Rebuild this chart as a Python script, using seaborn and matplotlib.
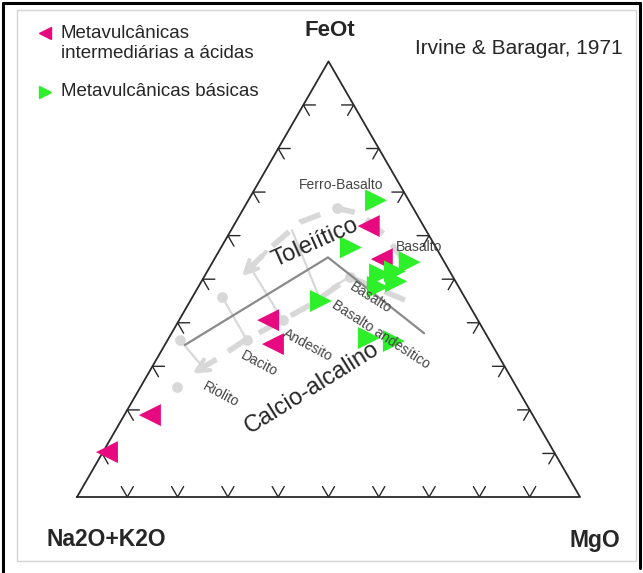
import numpy as np
import pandas as pd
import matplotlib
matplotlib.use("Agg")
import matplotlib.pyplot as plt
from matplotlib.lines import Line2D
from matplotlib.patches import Rectangle
import seaborn as sns

# ---- AFM compositions in percent: A = Na2O+K2O, F = FeOt, M = MgO ----
inter_acid_A = [10.9, 12.1, 41.7, 43.5, 76.1, 88.9]
inter_acid_F = [62.2, 54.6, 40.6, 35.1, 18.8, 10.3]
inter_acid_M = [26.9, 33.3, 17.7, 21.4, 5.1, 0.8]

basic_A = [6.5, 16.9, 6.9, 14.2, 10.9, 16.1, 11.8, 29.0, 23.7, 19.1]
basic_F = [68.1, 57.3, 53.9, 51.1, 51.8, 48.2, 49.5, 45.0, 36.5, 35.8]
basic_M = [25.4, 25.8, 39.2, 34.7, 37.3, 35.7, 38.7, 26.0, 39.8, 45.1]

# Irvine & Baragar (1971) tholeiitic / calc-alkaline divide
boundary_A = [61.1, 22.6, 12.2]
boundary_F = [34.9, 55.0, 37.6]
boundary_M = [4.0, 22.4, 50.2]

# reference differentiation trends (tholeiitic and calc-alkaline)
thol_A = [7.8, 8.7, 11.2, 15.2, 24.1, 33.7, 42.5]
thol_F = [53.9, 60.1, 65.1, 66.3, 63.1, 56.7, 50.2]
thol_M = [38.3, 31.2, 23.7, 18.5, 12.8, 9.6, 7.3]

calc_A = [12.2, 20.5, 30.8, 38.8, 48.6, 56.9, 63.5]
calc_F = [45.2, 50.5, 44.5, 40.6, 36.0, 31.4, 28.0]
calc_M = [42.6, 29.0, 24.7, 20.6, 15.4, 11.7, 8.5]

node_A = [15.2, 39.2, 48.2, 61.5, 20.5, 38.8, 48.2, 67.5]
node_F = [66.3, 52.8, 45.9, 36.0, 50.5, 40.6, 36.0, 25.2]
node_M = [18.5, 8.0, 5.9, 2.5, 29.0, 20.6, 15.8, 7.3]

# thin tie lines between equivalent rocks of the two series: (start, end)
tie_start_A = [39.2, 48.2, 61.5, 26.6, 39.2, 20.5, 48.2]
tie_start_F = [52.8, 45.9, 36.0, 61.2, 52.8, 50.5, 36.0]
tie_start_M = [8.0, 5.9, 2.5, 12.1, 8.0, 29.0, 15.8]
tie_end_A = [38.8, 48.2, 60.0, 29.1, 35.5, 25.2, 51.9]
tie_end_F = [40.6, 36.0, 29.8, 44.7, 55.1, 48.2, 34.2]
tie_end_M = [20.6, 15.8, 10.1, 26.2, 9.5, 26.6, 13.9]

group_names = ["Metavulcânicas\nintermediárias a ácidas", "Metavulcânicas básicas"]
group_colors = ["#E6097F", "#2EF02A"]
group_markers = ["<", ">"]

SQ3 = np.sqrt(3) / 2


def to_xy(A, F, M):
    A, F, M = (np.asarray(v, dtype=float) for v in (A, F, M))
    tot = A + F + M
    f, m = F / tot, M / tot
    return m + f / 2, f * SQ3


W, H = 643, 573
fig = plt.figure(figsize=(W / 100, H / 100), dpi=100)
sns.set_style("white")
plt.rcParams["font.family"] = ["Liberation Sans", "DejaVu Sans"]
ax = fig.add_axes([0, 0, 1, 1])
scale = 503.0
x0_px, y0_px = 77.0, 497.0
ax.set_xlim(-x0_px / scale, (W - x0_px) / scale)
ax.set_ylim((y0_px - H) / scale, y0_px / scale)
ax.set_aspect("equal")
ax.axis("off")

# outer frames
fig.add_artist(Line2D([2.5 / W, 2.5 / W], [0, 1 - 2.5 / H], color="black", lw=2.2))
fig.add_artist(Line2D([2.5 / W, 639.5 / W], [1 - 2.5 / H, 1 - 2.5 / H], color="black", lw=2.2))
fig.add_artist(Line2D([639.5 / W, 639.5 / W], [1 - 2.5 / H, 5 / H], color="black", lw=2.2))
fig.add_artist(Rectangle((17 / W, 1 - 561 / H), 619 / W, 551 / H, fill=False,
                         ec="#d4d4d4", lw=1.0, transform=fig.transFigure))

# triangle
ax.plot([0, 1, 0.5, 0], [0, 0, SQ3, 0], color="#2a2a2a", lw=1.3, zorder=3)

# chevron ticks every 10 %
L = 0.024
c60, s60 = 0.5, SQ3
for i in range(1, 10):
    t = i / 10
    bx, by = t, 0.0
    ax.plot([bx - L * c60, bx, bx + L * c60], [by + L * s60, by, by + L * s60],
            color="#2a2a2a", lw=1.0, zorder=3)
    lx, ly = 0.5 * t, SQ3 * t
    ax.plot([lx + L, lx, lx + L * c60], [ly, ly, ly - L * s60],
            color="#2a2a2a", lw=1.0, zorder=3)
    rx, ry = 1 - 0.5 * t, SQ3 * t
    ax.plot([rx - L, rx, rx - L * c60], [ry, ry, ry - L * s60],
            color="#2a2a2a", lw=1.0, zorder=3)

# trend curves
gray = "#d8d8d8"
for A, F, M in [(thol_A, thol_F, thol_M), (calc_A, calc_F, calc_M)]:
    tx, ty = to_xy(A, F, M)
    ax.plot(tx, ty, color=gray, lw=4, dashes=(4, 2.5), zorder=1)
    ax.annotate("", xy=(tx[-1], ty[-1]), xytext=(tx[-2], ty[-2]),
                arrowprops=dict(arrowstyle="->", color=gray, lw=3, mutation_scale=22),
                zorder=1)
sx, sy = to_xy(tie_start_A, tie_start_F, tie_start_M)
ex, ey = to_xy(tie_end_A, tie_end_F, tie_end_M)
for i in range(len(sx)):
    ax.plot([sx[i], ex[i]], [sy[i], ey[i]], color=gray, lw=1.6, zorder=1)
nx, ny = to_xy(node_A, node_F, node_M)
ax.scatter(nx, ny, s=60, color=gray, zorder=1, linewidths=0)

# dividing line
bx_, by_ = to_xy(boundary_A, boundary_F, boundary_M)
ax.plot(bx_, by_, color="#8a8a8a", lw=1.6, zorder=2)

# samples
frames = []
for name, A, F, M in [(group_names[0], inter_acid_A, inter_acid_F, inter_acid_M),
                      (group_names[1], basic_A, basic_F, basic_M)]:
    x, y = to_xy(A, F, M)
    frames.append(pd.DataFrame({"x": x, "y": y, "grupo": name}))
df = pd.concat(frames, ignore_index=True)
sns.scatterplot(data=df, x="x", y="y", hue="grupo", style="grupo",
                palette=dict(zip(group_names, group_colors)),
                markers=dict(zip(group_names, group_markers)),
                s=250, linewidth=0, legend=False, ax=ax, zorder=5)


def px(xp, yp):
    return (xp - x0_px) / scale, (y0_px - yp) / scale


# corner and reference labels
ax.text(*px(330, 30), "FeOt", fontsize=16, fontweight="bold", ha="center", va="center")
ax.text(*px(106, 540), "Na2O+K2O", fontsize=16.5, fontweight="bold", ha="center", va="center")
ax.text(*px(595, 540), "MgO", fontsize=16.5, fontweight="bold", ha="center", va="center")
ax.text(*px(415, 48), "Irvine & Baragar, 1971", fontsize=15, ha="left", va="center")

# series names
ax.text(*px(315, 243), "Toleiítico", fontsize=17, rotation=24, ha="center", va="center", zorder=6)
ax.text(*px(312, 388), "Calcio-alcalino", fontsize=17, rotation=32, ha="center", va="center", zorder=6)

# rock names
rock = dict(fontsize=10, color="#444444", ha="center", va="center", zorder=6)
ax.text(*px(341, 185), "Ferro-Basalto", rotation=0, **rock)
ax.text(*px(419, 247), "Basalto", rotation=0, **rock)
ax.text(*px(371, 298), "Basalto", rotation=-32, **rock)
ax.text(*px(381, 335), "Basalto andesítico", rotation=-33, **rock)
ax.text(*px(308, 345), "Andesito", rotation=-28, **rock)
ax.text(*px(259, 364), "Dacito", rotation=-28, **rock)
ax.text(*px(221, 395), "Riolito", rotation=-28, **rock)

# legend
fig.add_artist(Line2D([45 / W], [1 - 33 / H], marker="<", ms=8, color=group_colors[0], lw=0))
fig.add_artist(Line2D([45 / W], [1 - 92 / H], marker=">", ms=8, color=group_colors[1], lw=0))
fig.text(61 / W, 1 - 33 / H, "Metavulcânicas", fontsize=13.5, va="center", ha="left")
fig.text(61 / W, 1 - 53 / H, "intermediárias a ácidas", fontsize=13.5, va="center", ha="left")
fig.text(61 / W, 1 - 92 / H, "Metavulcânicas básicas", fontsize=13.5, va="center", ha="left")

fig.savefig("out.png", dpi=100)
